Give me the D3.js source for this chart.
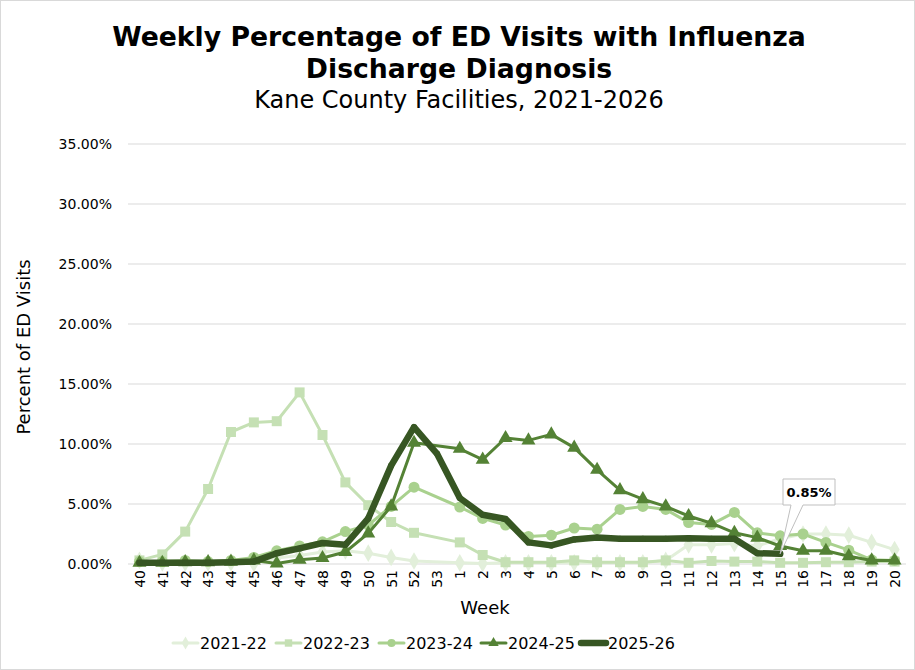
<!DOCTYPE html>
<html>
<head>
<meta charset="utf-8">
<script src="https://cdn.jsdelivr.net/npm/d3@7"></script>
<style>
  body { margin: 0; background: #fff; }
  svg text { font-family: "DejaVu Sans", Verdana, sans-serif; fill: #000; }
</style>
</head>
<body>
<div id="chart"></div>
<script>
var weeks = [40, 41, 42, 43, 44, 45, 46, 47, 48, 49, 50, 51, 52, 53,
  1, 2, 3, 4, 5, 6, 7, 8, 9, 10, 11, 12, 13, 14, 15, 16, 17, 18, 19, 20];

var seasons = ["2021-22", "2022-23", "2023-24", "2024-25", "2025-26"];

var s2122 = [0.3, 0.1, 0.1, 0.1, 0.1, 0.05, 0.5, 0.7, 1.0, 1.1, 0.9, 0.55, 0.25, null,
  0.1, 0.05, 0.1, 0.1, 0.1, 0.1, 0.1, 0.1, 0.1, 0.3, 1.6, 1.6, 1.7, 1.5, 2.1, 2.5, 2.5, 2.4, 1.8, 1.2];
var s2223 = [0.3, 0.8, 2.7, 6.25, 11.0, 11.8, 11.9, 14.3, 10.75, 6.8, 4.9, 3.5, 2.6, null,
  1.8, 0.75, 0.15, 0.15, 0.15, 0.3, 0.15, 0.15, 0.15, 0.3, 0.1, 0.25, 0.2, 0.2, 0.1, 0.1, 0.15, 0.15, 0.2, 0.2];
var s2324 = [0.2, 0.2, 0.3, 0.2, 0.3, 0.55, 1.1, 1.5, 1.85, 2.7, 3.25, 4.8, 6.4, null,
  4.75, 3.8, 3.25, 2.3, 2.4, 3.0, 2.9, 4.55, 4.8, 4.55, 3.45, 3.3, 4.3, 2.6, 2.35, 2.5, 1.8, 1.15, 0.35, 0.3];
var s2425 = [0.1, 0.1, 0.15, 0.15, 0.2, 0.3, 0.05, 0.35, 0.5, 1.0, 2.55, 4.8, 10.1, null,
  9.6, 8.7, 10.5, 10.3, 10.8, 9.7, 7.85, 6.15, 5.4, 4.8, 4.0, 3.4, 2.6, 2.2, 1.5, 1.1, 1.1, 0.65, 0.3, 0.3];
var s2526 = [0.1, 0.1, 0.1, 0.1, 0.15, 0.2, 0.9, 1.3, 1.75, 1.6, 3.8, 8.2, 11.4, 9.2,
  5.5, 4.1, 3.75, 1.8, 1.55, 2.05, 2.2, 2.1, 2.1, 2.1, 2.15, 2.1, 2.1, 0.9, 0.85, null, null, null, null, null];

var yTicks = [0, 5, 10, 15, 20, 25, 30, 35];

var labelWeek = 15;
var labelText = "0.85%";

var width = 915, height = 670;
var margin = { top: 144, right: 6, bottom: 106, left: 128 };

var svg = d3.select("#chart").append("svg")
  .attr("width", width)
  .attr("height", height);

// chart area border
svg.append("rect")
  .attr("x", 0.5).attr("y", 0.5)
  .attr("width", width - 1).attr("height", height - 1)
  .attr("fill", "#fff")
  .attr("stroke", "#d9d9d9");

// titles
svg.append("text").attr("x", 459).attr("y", 46).attr("text-anchor", "middle")
  .style("font-size", "26.7px").style("font-weight", "bold")
  .text("Weekly Percentage of ED Visits with Influenza");
svg.append("text").attr("x", 459).attr("y", 78).attr("text-anchor", "middle")
  .style("font-size", "26.7px").style("font-weight", "bold")
  .text("Discharge Diagnosis");
svg.append("text").attr("x", 459).attr("y", 108).attr("text-anchor", "middle")
  .style("font-size", "24px")
  .text("Kane County Facilities, 2021-2026");

var x = d3.scalePoint()
  .domain(d3.range(weeks.length))
  .range([margin.left, width - margin.right - 3])
  .padding(0.5);

var y = d3.scaleLinear()
  .domain([0, 35])
  .range([height - margin.bottom, margin.top]);

// gridlines
svg.append("g")
  .selectAll("line")
  .data(yTicks)
  .enter()
  .append("line")
  .attr("x1", margin.left)
  .attr("x2", width - margin.right - 3)
  .attr("y1", function (d) { return y(d); })
  .attr("y2", function (d) { return y(d); })
  .attr("stroke", "#d9d9d9")
  .attr("stroke-width", 1);

// y axis labels
var yAxis = d3.axisLeft(y).tickValues(yTicks).tickSize(0).tickPadding(16)
  .tickFormat(function (d) { return d.toFixed(2) + "%"; });
var gy = svg.append("g").attr("transform", `translate(${margin.left},0)`).call(yAxis);
gy.select(".domain").remove();
gy.selectAll("text").style("font-size", "14px").attr("fill", "#000");

// x axis labels
var xAxis = d3.axisBottom(x).tickSize(0)
  .tickFormat(function (i) { return weeks[i]; });
var gx = svg.append("g").attr("transform", `translate(0,${y(0)})`).call(xAxis);
gx.select(".domain").remove();
gx.selectAll("text")
  .style("font-size", "14px")
  .attr("fill", "#000")
  .attr("text-anchor", "end")
  .attr("transform", "rotate(-90)")
  .attr("x", -6)
  .attr("y", 0)
  .attr("dy", "0.35em");

// axis titles
svg.append("text")
  .attr("transform", "translate(30,347) rotate(-90)")
  .attr("text-anchor", "middle")
  .style("font-size", "18px")
  .text("Percent of ED Visits");
svg.append("text")
  .attr("x", 485).attr("y", 614)
  .attr("text-anchor", "middle")
  .style("font-size", "18px")
  .text("Week");

var series = [
  { name: seasons[0], values: s2122, color: "#e2efda", width: 3, marker: "diamond", size: 90 },
  { name: seasons[1], values: s2223, color: "#c5e0b4", width: 3, marker: "square", size: 100 },
  { name: seasons[2], values: s2324, color: "#a9d18e", width: 3, marker: "circle", size: 95 },
  { name: seasons[3], values: s2425, color: "#548235", width: 3, marker: "triangle", size: 85 },
  { name: seasons[4], values: s2526, color: "#375623", width: 6.5, marker: "circle", size: 30 }
];

var symbols = {
  diamond: d3.symbolDiamond,
  square: d3.symbolSquare,
  circle: d3.symbolCircle,
  triangle: d3.symbolTriangle
};

var line = d3.line()
  .x(function (d) { return x(d.i); })
  .y(function (d) { return y(d.v); });

series.forEach(function (s) {
  var pts = [];
  s.values.forEach(function (v, i) {
    if (v != null) { pts.push({ i: i, v: v }); }
  });

  var g = svg.append("g");
  g.append("path")
    .datum(pts)
    .attr("d", line)
    .attr("fill", "none")
    .attr("stroke", s.color)
    .attr("stroke-width", s.width)
    .attr("stroke-linejoin", "round")
    .attr("stroke-linecap", "round");

  g.selectAll("path.mk")
    .data(pts)
    .enter()
    .append("path")
    .attr("class", "mk")
    .attr("d", d3.symbol().type(symbols[s.marker]).size(s.size))
    .attr("transform", function (d) { return `translate(${x(d.i)},${y(d.v)})`; })
    .attr("fill", s.color);
});

// data callout
var li = weeks.indexOf(labelWeek, 14);
var px = x(li), py = y(s2526[li]);
var bx = 783, by = 479, bw = 52, bh = 26;
var callout = svg.append("g");
callout.append("path")
  .attr("d", `M${bx},${by} H${bx + bw} V${by + bh} H${bx + 20} L${px},${py} L${bx + 8},${by + bh} H${bx} Z`)
  .attr("fill", "#fff")
  .attr("stroke", "#bfbfbf")
  .attr("stroke-width", 1);
callout.append("text")
  .attr("x", bx + bw / 2).attr("y", by + 18)
  .attr("text-anchor", "middle")
  .style("font-size", "13px").style("font-weight", "bold")
  .text(labelText);

// legend
var legendX = [173, 276, 379, 481, 581];
var legend = svg.append("g");
series.forEach(function (s, k) {
  var lx = legendX[k], ly = 643;
  legend.append("line")
    .attr("x1", lx).attr("x2", lx + 25)
    .attr("y1", ly).attr("y2", ly)
    .attr("stroke", s.color)
    .attr("stroke-width", s.width)
    .attr("stroke-linecap", "round");
  legend.append("path")
    .attr("d", d3.symbol().type(symbols[s.marker]).size(s.size * 0.55))
    .attr("transform", `translate(${lx + 12.5},${ly})`)
    .attr("fill", s.color);
  legend.append("text")
    .attr("x", lx + 27).attr("y", ly + 6)
    .style("font-size", "16px")
    .text(s.name);
});
</script>
</body>
</html>
